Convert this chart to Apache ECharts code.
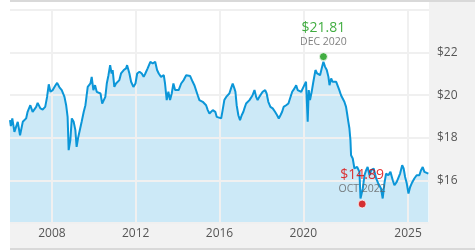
<!DOCTYPE html>
<html>
<head>
<meta charset="utf-8">
<script src="https://cdn.jsdelivr.net/npm/echarts@6/dist/echarts.min.js"></script>
<style>
html,body{margin:0;padding:0;background:#fff;}
#chart{width:475px;height:250px;}
</style>
</head>
<body>
<div id="chart"></div>
<script>
// ---- data (decimal years, price in $) ----
const dates = [2006.00,2006.04,2006.11,2006.21,2006.37,2006.48,2006.61,2006.77,2006.84,2006.97,
2007.08,2007.25,2007.32,2007.45,2007.56,2007.68,2007.77,2007.85,2007.93,2008.04,
2008.15,2008.25,2008.36,2008.47,2008.60,2008.68,2008.75,2008.80,2008.88,2008.95,
2009.04,2009.12,2009.18,2009.26,2009.35,2009.42,2009.52,2009.60,2009.71,2009.84,
2009.90,2009.98,2010.06,2010.14,2010.23,2010.32,2010.40,2010.47,2010.55,2010.62,
2010.70,2010.78,2010.85,2010.90,2010.98,2011.06,2011.14,2011.22,2011.30,2011.43,
2011.54,2011.59,2011.70,2011.78,2011.89,2011.99,2012.07,2012.18,2012.29,2012.38,
2012.46,2012.57,2012.70,2012.81,2012.93,2013.02,2013.10,2013.21,2013.34,2013.40,
2013.48,2013.56,2013.64,2013.72,2013.80,2013.88,2013.96,2014.05,2014.17,2014.29,
2014.41,2014.48,2014.60,2014.72,2014.80,2014.88,2014.96,2015.04,2015.12,2015.20,
2015.28,2015.36,2015.44,2015.52,2015.60,2015.68,2015.76,2015.80,2015.87,2015.96,
2016.08,2016.15,2016.23,2016.32,2016.39,2016.47,2016.55,2016.63,2016.71,2016.76,
2016.82,2016.90,2016.98,2017.06,2017.14,2017.19,2017.27,2017.35,2017.43,2017.51,
2017.58,2017.67,2017.75,2017.82,2017.90,2017.99,2018.06,2018.18,2018.25,2018.33,
2018.43,2018.54,2018.65,2018.75,2018.83,2018.91,2018.99,2019.06,2019.18,2019.29,
2019.38,2019.47,2019.58,2019.66,2019.73,2019.81,2019.90,2019.97,2020.05,2020.13,
2020.21,2020.26,2020.32,2020.40,2020.48,2020.58,2020.66,2020.72,2020.80,2020.88,
2020.96,2021.04,2021.12,2021.20,2021.25,2021.33,2021.40,2021.48,2021.57,2021.64,
2021.72,2021.80,2021.88,2021.96,2022.04,2022.09,2022.15,2022.20,2022.25,2022.28,
2022.36,2022.44,2022.57,2022.68,2022.73,2022.84,2022.92,2023.00,2023.07,2023.16,
2023.24,2023.36,2023.48,2023.58,2023.71,2023.79,2023.87,2023.95,2024.06,2024.16,
2024.27,2024.35,2024.46,2024.54,2024.62,2024.72,2024.79,2024.86,2024.94,2025.02,
2025.10,2025.17,2025.30,2025.41,2025.54,2025.62,2025.70,2025.78,2025.86,2025.97];

const prices = [18.83,18.55,18.91,18.28,18.75,18.12,18.75,18.91,19.22,19.53,
19.22,19.45,19.64,19.38,19.33,19.45,19.92,20.51,20.16,20.24,
20.43,20.58,20.37,20.24,19.92,19.53,18.98,17.42,17.89,18.91,
18.75,18.36,17.57,18.04,18.12,18.75,19.22,19.53,20.39,20.55,
20.86,20.24,20.47,20.16,20.24,20.08,19.61,19.53,19.92,20.55,
20.94,21.41,21.02,21.18,20.39,20.55,20.63,20.71,21.02,21.18,
21.26,21.41,21.02,20.63,20.39,20.55,21.02,21.10,21.02,20.86,
21.02,21.26,21.57,21.49,21.57,21.18,21.02,20.86,20.94,20.55,
19.77,20.16,19.77,20.08,20.55,20.24,20.16,20.24,20.55,20.71,
20.94,21.02,20.90,20.63,20.47,20.39,20.00,19.77,19.85,19.69,
19.77,19.53,19.30,19.14,19.22,19.30,19.38,19.22,18.98,18.91,
18.91,19.30,19.77,19.92,20.00,20.08,20.32,20.55,20.32,20.16,
19.53,19.06,18.83,19.06,19.22,19.38,19.61,19.53,19.77,19.85,
20.00,20.24,19.92,19.77,19.92,20.00,20.16,20.24,20.08,19.69,
19.45,19.38,19.22,19.06,18.91,19.06,19.22,19.45,19.53,19.61,
19.69,20.16,20.32,20.47,20.24,20.24,20.16,20.24,20.47,20.63,
18.75,20.24,19.77,20.16,20.63,21.18,21.02,21.10,20.94,21.26,
21.57,21.33,21.18,20.86,20.47,20.79,20.63,20.71,20.63,20.63,
20.24,20.00,19.92,19.69,19.45,19.14,18.75,18.45,17.89,17.18,
17.03,16.56,16.63,16.40,15.15,15.62,16.24,16.48,16.63,16.24,
16.48,16.56,16.09,15.85,15.62,15.15,15.85,16.32,16.24,16.40,
16.01,15.77,15.93,15.85,16.32,16.71,16.56,16.16,15.85,15.38,
15.69,15.85,16.09,16.24,16.24,16.48,16.63,16.40,16.32,16.32];

const xTickYears = [2008, 2012, 2016, 2020, 2025];
const yTickValues = [16, 18, 20, 22, 24];
const yTickLabels = ['$16', '$18', '$20', '$22'];

const highDate = 2020.96, highPrice = 21.81, highLabel = 'DEC 2020';
const lowDate = 2022.81, lowPrice = 14.89, lowLabel = 'OCT 2022';

// ---- chart ----
const series = dates.map((d, i) => [d, prices[i]]);
const chart = echarts.init(document.getElementById('chart'), null, {renderer: 'canvas'});
const FONT = '"Open Sans", sans-serif';

chart.setOption({
  animation: false,
  backgroundColor: '#ffffff',
  graphic: [
    {type: 'rect', z: 0, shape: {x: 10, y: 0, width: 465, height: 2}, style: {fill: '#d9d9d9'}},
    {type: 'rect', z: 0, shape: {x: 429, y: 2, width: 46, height: 246}, style: {fill: '#f2f2f2'}},
    {type: 'rect', z: 0, shape: {x: 10, y: 223, width: 419, height: 25}, style: {fill: '#f2f2f2'}},
    {type: 'rect', z: 0, shape: {x: 10, y: 248, width: 465, height: 2}, style: {fill: '#d9d9d9'}}
  ],
  grid: {left: 10, top: 10, width: 419, height: 213, containLabel: false},
  xAxis: {
    type: 'value', min: 2006, max: 2026, z: 1.5,
    axisLine: {show: false},
    axisTick: {show: false, customValues: xTickYears},
    axisLabel: {customValues: xTickYears, color: '#555555', fontSize: 12, fontFamily: FONT, margin: 5,
      formatter: v => String(Math.round(v))},
    splitLine: {show: true, lineStyle: {color: '#f0f0f0', width: 2}}
  },
  yAxis: {
    type: 'value', position: 'right', min: 14, max: 24, interval: 2, z: 1.5,
    axisLine: {show: false},
    axisTick: {show: false},
    axisLabel: {color: '#555555', fontSize: 12, fontFamily: FONT, margin: 8,
      formatter: v => { const i = yTickValues.indexOf(v); return (i >= 0 && i < yTickLabels.length) ? yTickLabels[i] : ''; }},
    splitLine: {show: true, lineStyle: {color: '#f0f0f0', width: 2}}
  },
  series: [
    {
      type: 'line', data: series, z: 1, showSymbol: false, silent: true,
      lineStyle: {width: 0, opacity: 0},
      areaStyle: {color: '#cce9f7', opacity: 1}
    },
    {
      type: 'line', data: series, z: 3, showSymbol: false, silent: true,
      lineStyle: {width: 2, color: '#0b96d8'}
    },
    {
      type: 'scatter', z: 4, symbolSize: 8, silent: true,
      data: [
        {value: [highDate, highPrice], itemStyle: {color: '#119911'},
         label: {formatter: '{p|$' + highPrice.toFixed(2) + '}\n{d|' + highLabel + '}', rich: {p: {color: '#119911', fontSize: 14, fontFamily: FONT, lineHeight: 15}, d: {color: '#606060', fontSize: 10.5, fontFamily: FONT, lineHeight: 13}}}},
        {value: [lowDate, lowPrice], itemStyle: {color: '#d60000'},
         label: {formatter: '{p|$' + lowPrice.toFixed(2) + '}\n{d|' + lowLabel + '}', rich: {p: {color: '#dd0000', fontSize: 14, fontFamily: FONT, lineHeight: 15}, d: {color: '#606060', fontSize: 10.5, fontFamily: FONT, lineHeight: 13}}}}
      ],
      itemStyle: {borderColor: '#ffffff', borderWidth: 1},
      label: {show: true, position: 'top', distance: 4, align: 'center'}
    }
  ]
});
</script>
</body>
</html>
